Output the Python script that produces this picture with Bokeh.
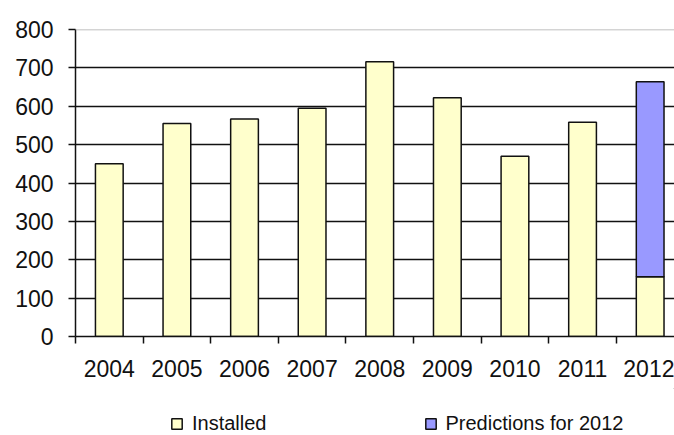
from bokeh.plotting import figure
from bokeh.layouts import column
from bokeh.models import FixedTicker, Span, Legend, LegendItem, Range1d
from bokeh.embed import file_html
from bokeh.resources import INLINE

# Installed units per year; the 2012 bar carries a prediction stacked on top
years = ["2004", "2005", "2006", "2007", "2008", "2009", "2010", "2011", "2012"]
installed = [450, 555, 567, 595, 716, 622, 470, 558, 156]
predicted_total_2012 = [664]
y_ticks = [0, 100, 200, 300, 400, 500, 600, 700, 800]

FONT = "Liberation Sans"
INK = "#111111"
INSTALLED_FILL = "#FFFFCC"
PREDICTED_FILL = "#9999FF"
xs = list(range(len(years)))

p = figure(width=674, height=388, output_backend="svg", toolbar_location=None,
           x_range=Range1d(-0.5, 8.36), y_range=Range1d(0, 800),
           min_border_left=75, min_border_right=0, min_border_top=29,
           min_border_bottom=52, outline_line_color=None)

p.vbar(x=xs, top=installed, width=0.41, fill_color=INSTALLED_FILL,
       line_color=INK, line_width=1.5)
p.vbar(x=[xs[-1]], bottom=[installed[-1]], top=predicted_total_2012,
       width=0.41, fill_color=PREDICTED_FILL, line_color=INK, line_width=1.5)

# y axis
p.yaxis.ticker = FixedTicker(ticks=y_ticks)
p.yaxis.major_tick_in = 0
p.yaxis.major_tick_out = 7
p.yaxis.minor_tick_line_color = None
p.yaxis.axis_line_width = 1.5
p.yaxis.major_tick_line_width = 1.5
p.yaxis.axis_line_color = INK
p.yaxis.major_tick_line_color = INK
p.yaxis.major_label_text_font = FONT
p.yaxis.major_label_text_font_size = "23px"
p.yaxis.major_label_text_color = INK
p.yaxis.major_label_standoff = 15

# x axis: labels at category centres, ticks on category boundaries
p.xaxis.ticker = FixedTicker(ticks=xs, minor_ticks=[i - 0.5 for i in range(len(years) + 1)])
p.xaxis.major_label_overrides = {i: y for i, y in enumerate(years)}
p.xaxis.major_tick_line_color = None
p.xaxis.major_tick_in = 0
p.xaxis.major_tick_out = 0
p.xaxis.minor_tick_in = 0
p.xaxis.minor_tick_out = 7
p.xaxis.minor_tick_line_width = 1.5
p.xaxis.minor_tick_line_color = INK
p.xaxis.axis_line_width = 1.5
p.xaxis.axis_line_color = INK
p.xaxis.major_label_text_font = FONT
p.xaxis.major_label_text_font_size = "23px"
p.xaxis.major_label_text_color = INK
p.xaxis.major_label_standoff = 16

# grid
p.xgrid.grid_line_color = None
p.ygrid.ticker = FixedTicker(ticks=y_ticks[1:-1])
p.ygrid.grid_line_color = INK
p.ygrid.grid_line_width = 1.5
p.add_layout(Span(location=800, dimension="width", line_color="#AAAAAA",
                  line_width=1.5))

# legend strip underneath the chart (its frame lines up with the chart frame);
# the key glyphs sit well outside the strip's visible ranges
lg = figure(width=674, height=47, output_backend="svg", toolbar_location=None,
            x_range=Range1d(0, 1), y_range=Range1d(0, 1),
            min_border=0, outline_line_color=None)
lg.axis.visible = False
lg.grid.visible = False
key_inst = lg.vbar(x=[50], bottom=[50], top=[51], width=0.1,
                   fill_color=INSTALLED_FILL, line_color=INK, line_width=1.5)
key_pred = lg.vbar(x=[50], bottom=[50], top=[51], width=0.1,
                   fill_color=PREDICTED_FILL, line_color=INK, line_width=1.5)

legend = Legend(items=[LegendItem(label="Installed", renderers=[key_inst]),
                       LegendItem(label="Predictions for 2012", renderers=[key_pred])],
                orientation="horizontal", location=(95, 0), spacing=157,
                glyph_width=13, glyph_height=13, label_standoff=9,
                label_text_font=FONT, label_text_font_size="20px",
                label_text_color=INK, label_height=16,
                border_line_color=None, background_fill_alpha=0,
                padding=0, margin=0)
lg.add_layout(legend, "center")

layout = column(p, lg, spacing=0)
open("out.html", "w").write(file_html(layout, INLINE))
